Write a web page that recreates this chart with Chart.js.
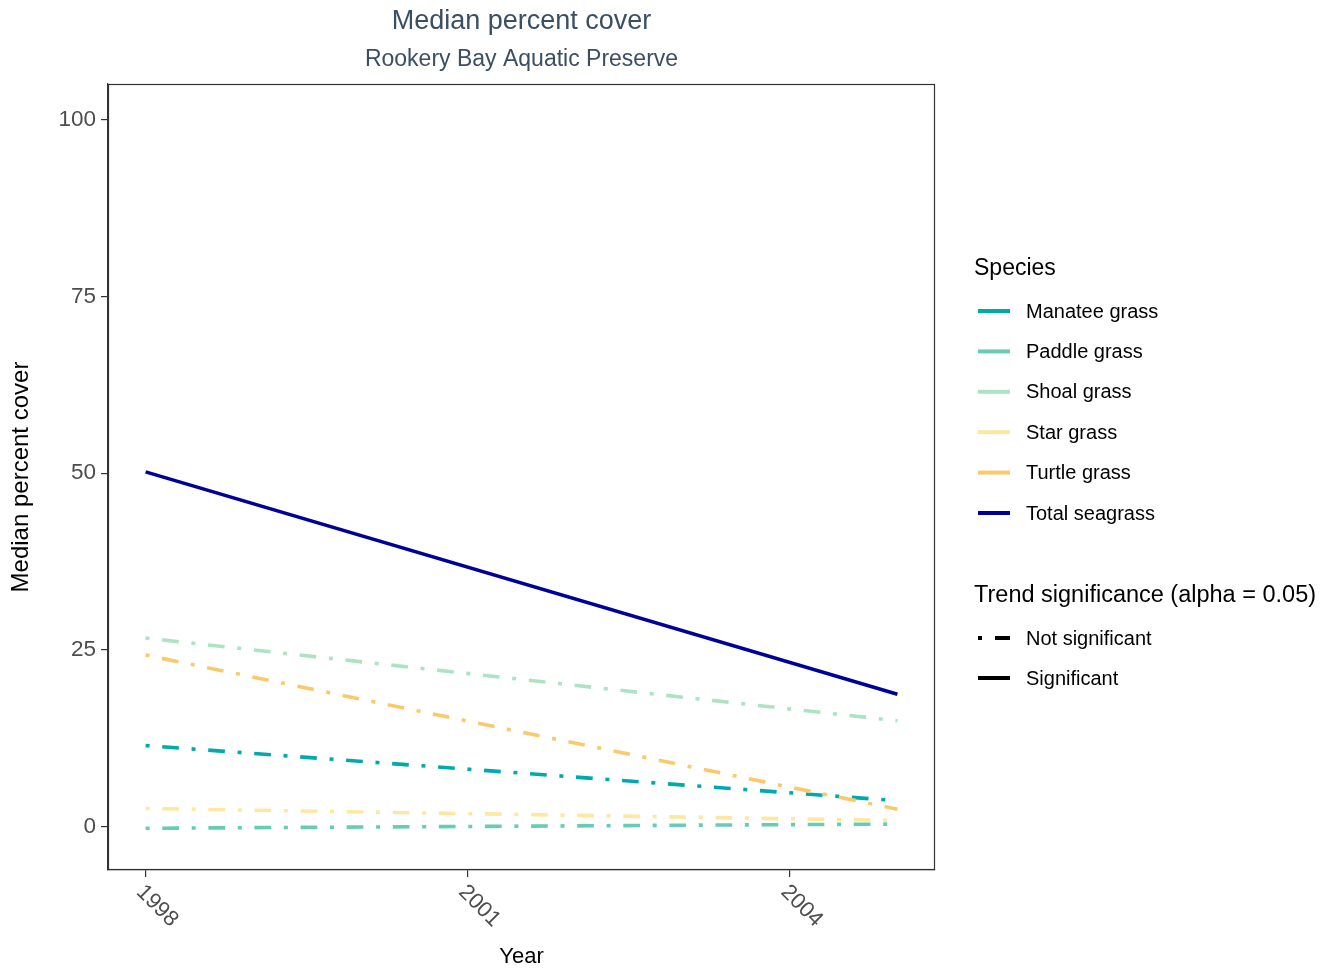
<!DOCTYPE html>
<html>
<head>
<meta charset="utf-8">
<script src="https://cdn.jsdelivr.net/npm/chart.js@4"></script>
<style>
    body { margin: 0; background: #ffffff; }
    #wrap { width: 1329px; height: 970px; }
</style>
</head>
<body>
<div id="wrap"><canvas id="graficoCobertura" width="1329" height="970"></canvas></div>
<script>
// --- DADOS ---
const anos = [1998, 2005];
const especies = ['Manatee grass', 'Paddle grass', 'Shoal grass', 'Star grass', 'Turtle grass', 'Total seagrass'];
const cores = ['#00AAAA', '#66CDB2', '#ADE3C3', '#FDE8A2', '#F8CA6C', '#000099'];
const significativo = [false, false, false, false, false, true];

const manatee = [11.5, 3.7];
const paddle = [-0.2, 0.4];
const shoal = [26.7, 15.0];
const star = [2.6, 0.9];
const turtle = [24.3, 2.5];
const total = [50.2, 18.75];
const series = [manatee, paddle, shoal, star, turtle, total];

const ticksX = [1998, 2001, 2004];
const ticksY = [0, 25, 50, 75, 100];

const FONTE = "'Liberation Sans', Arial, sans-serif";
const TRACO = [4, 12.7, 16.7, 12.7];

// --- GRÁFICO ---
const datasets = series.map((valores, i) => ({
    label: especies[i],
    data: anos.map((a, j) => ({ x: a, y: valores[j] })),
    borderColor: cores[i],
    borderWidth: 3.6,
    borderDash: significativo[i] ? [] : TRACO,
    borderCapStyle: 'butt',
    pointRadius: 0,
    tension: 0,
    fill: false,
    order: series.length - i
}));

// Moldura, rótulos do eixo X, títulos e legenda
const extras = {
    id: 'extras',
    afterDraw(chart) {
        const ctx = chart.ctx;
        const area = chart.chartArea;
        const x = chart.scales.x;

        ctx.save();
        ctx.strokeStyle = '#333333';
        ctx.lineWidth = 1.2;
        ctx.strokeRect(area.left + 0.5, area.top + 0.5, area.right - area.left - 1, area.bottom - area.top - 1);

        // rótulos inclinados
        ctx.fillStyle = '#4D4D4D';
        ctx.font = '22px ' + FONTE;
        ctx.textAlign = 'left';
        ctx.textBaseline = 'top';
        ticksX.forEach(v => {
            const px = x.getPixelForValue(v);
            ctx.save();
            ctx.translate(px + 2, area.bottom + 11);
            ctx.rotate(Math.PI / 4);
            ctx.fillText(String(v), 0, 0);
            ctx.restore();
        });

        // título e subtítulo
        const centro = (area.left + area.right) / 2;
        ctx.fillStyle = '#3A4E64';
        ctx.textAlign = 'center';
        ctx.textBaseline = 'middle';
        ctx.font = '27px ' + FONTE;
        ctx.fillText('Median percent cover', centro, 22);
        ctx.font = '23px ' + FONTE;
        ctx.fillText('Rookery Bay Aquatic Preserve', centro, 60);

        // título do eixo X
        ctx.fillStyle = '#000000';
        ctx.font = '22px ' + FONTE;
        ctx.fillText('Year', centro, 957);

        // legenda
        ctx.textAlign = 'left';
        ctx.font = '23px ' + FONTE;
        ctx.fillText('Species', 974, 269);
        ctx.font = '20px ' + FONTE;
        especies.forEach((nome, i) => {
            const y = 311 + i * 40.4;
            ctx.strokeStyle = cores[i];
            ctx.lineWidth = 4;
            ctx.beginPath();
            ctx.moveTo(978, y);
            ctx.lineTo(1010, y);
            ctx.stroke();
            ctx.fillStyle = '#000000';
            ctx.fillText(nome, 1026, y + 1);
        });

        ctx.font = '23.5px ' + FONTE;
        ctx.fillText('Trend significance (alpha = 0.05)', 974, 596);
        ctx.font = '20px ' + FONTE;
        ctx.strokeStyle = '#000000';
        ctx.lineWidth = 4;
        ctx.setLineDash([4, 13, 17, 13]);
        ctx.beginPath();
        ctx.moveTo(978, 638);
        ctx.lineTo(1010, 638);
        ctx.stroke();
        ctx.setLineDash([]);
        ctx.fillText('Not significant', 1026, 639);
        ctx.beginPath();
        ctx.moveTo(978, 678);
        ctx.lineTo(1010, 678);
        ctx.stroke();
        ctx.fillText('Significant', 1026, 679);
        ctx.restore();
    }
};

const ctx = document.getElementById('graficoCobertura').getContext('2d');
new Chart(ctx, {
    type: 'line',
    data: { datasets: datasets },
    options: {
        responsive: false,
        animation: false,
        layout: { padding: { top: 84, right: 1329 - 935, bottom: 0, left: 0 } },
        plugins: {
            legend: { display: false },
            tooltip: { enabled: false },
            title: { display: false }
        },
        scales: {
            x: {
                type: 'linear',
                min: 1997.65,
                max: 2005.35,
                afterBuildTicks: s => { s.ticks = ticksX.map(v => ({ value: v })); },
                afterFit: s => { s.height = 100; },
                ticks: { display: false },
                grid: { drawOnChartArea: false, drawTicks: true, tickLength: 7, color: '#333333', lineWidth: 1.2 },
                border: { display: true, color: '#333333', width: 1.2 }
            },
            y: {
                type: 'linear',
                min: -6.1,
                max: 105.05,
                afterBuildTicks: s => { s.ticks = ticksY.map(v => ({ value: v })); },
                afterFit: s => { s.width = 108; },
                ticks: {
                    color: '#4D4D4D',
                    padding: 5,
                    font: { family: FONTE, size: 22.5 }
                },
                grid: { drawOnChartArea: false, drawTicks: true, tickLength: 7, color: '#333333', lineWidth: 1.2 },
                border: { display: true, color: '#333333', width: 1.2 },
                title: {
                    display: true,
                    text: 'Median percent cover',
                    color: '#000000',
                    font: { family: FONTE, size: 24 },
                    padding: { top: 7, bottom: 0 }
                }
            }
        }
    },
    plugins: [extras]
});
</script>
</body>
</html>
